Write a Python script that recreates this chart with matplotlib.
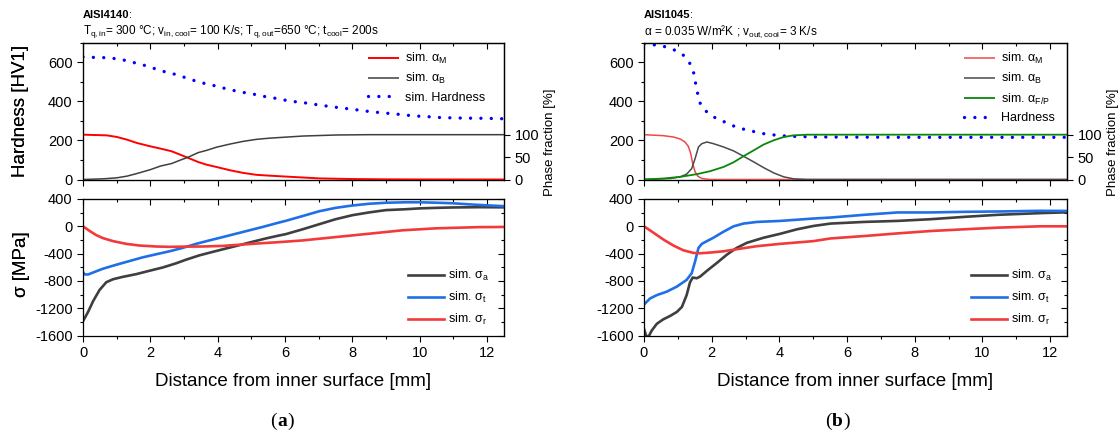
import matplotlib
matplotlib.use("Agg")
import matplotlib.pyplot as plt
from matplotlib.ticker import MultipleLocator, NullFormatter

plt.rcParams['font.family'] = ['Liberation Sans', 'DejaVu Sans']
plt.rcParams['mathtext.fontset'] = 'custom'
plt.rcParams['mathtext.rm'] = 'Liberation Sans'
plt.rcParams['mathtext.it'] = 'Liberation Sans:italic'
plt.rcParams['mathtext.bf'] = 'Liberation Sans:bold'
plt.rcParams['axes.unicode_minus'] = False

# ---------------- data: panel (a) AISI4140 ----------------
a_hard_x = [0.0, 0.34, 0.64, 0.96, 1.26, 1.57, 1.86, 2.16, 2.46, 2.75, 3.05, 3.35, 3.65, 3.94, 4.24,
            4.55, 4.85, 5.16, 5.47, 5.79, 6.09, 6.4, 6.71, 7.01, 7.33, 7.63, 7.94, 8.24, 8.55, 8.86,
            9.17, 9.48, 9.79, 10.09, 10.4, 10.7, 11.0, 11.31, 11.62, 12.0, 12.5]
a_hard_y = [628, 625, 624, 619, 610, 596, 583, 566, 550, 538, 521, 504, 490, 479, 465,
            453, 443, 434, 422, 414, 403, 396, 390, 381, 374, 367, 361, 354, 347, 342,
            337, 332, 326, 323, 320, 316, 316, 314, 314, 313, 311]
a_M_x = [0, 0.7, 1.0, 1.3, 1.6, 2.0, 2.3, 2.63, 2.88, 3.13, 3.42, 3.67, 3.96, 4.36, 4.75, 5.15,
         5.55, 6.15, 7.0, 8.0, 9.0, 10.0, 12.5]
a_M_y = [100, 98.5, 95, 89, 81.5, 74, 69, 63, 55.6, 48, 39, 33, 28, 20.7, 14.8, 10.4,
         8.5, 6, 2.5, 1, 0.4, 0.1, 0]
a_B_x = [0, 0.6, 1.0, 1.3, 1.6, 2.0, 2.3, 2.63, 2.88, 3.13, 3.42, 3.67, 3.96, 4.36, 4.75, 5.15,
         5.55, 6.54, 7.53, 8.5, 12.5]
a_B_y = [0, 1.5, 3.7, 7.4, 13.3, 22, 30, 35.6, 43, 50, 60, 65, 72, 79, 85, 89.6,
         92.3, 97, 99.3, 100, 100]
a_sa_x = [0, 0.15, 0.3, 0.49, 0.69, 0.89, 1.18, 1.58, 1.97, 2.37, 2.76, 3.06, 3.46, 3.85, 4.24,
          4.64, 5.03, 5.43, 5.82, 6.02, 6.52, 7.01, 7.5, 8.0, 8.49, 8.99, 9.58, 9.97, 10.47,
          10.96, 11.75, 12.5]
a_sa_y = [-1390, -1255, -1097, -934, -820, -776, -741, -701, -652, -603, -543, -489, -425, -375, -326,
          -277, -227, -178, -135, -115, -44, 30, 104, 163, 203, 237, 250, 262, 270,
          276, 280, 278]
a_st_x = [0, 0.05, 0.15, 0.3, 0.59, 0.99, 1.38, 1.78, 2.17, 2.57, 2.96, 3.36, 3.75, 4.15, 4.54,
          4.94, 5.33, 5.82, 6.02, 6.52, 7.01, 7.5, 8.0, 8.49, 8.99, 9.58, 9.97, 10.47, 10.96,
          11.45, 12.0, 12.5]
a_st_y = [-672, -705, -706, -677, -622, -563, -509, -454, -410, -366, -316, -257, -207, -158, -109,
          -59, -10, 55, 80, 150, 220, 270, 305, 330, 345, 352, 352, 346, 338,
          322, 307, 295]
a_sr_x = [0, 0.2, 0.39, 0.59, 0.89, 1.28, 1.68, 2.17, 2.57, 2.96, 3.55, 4.15, 4.74, 5.33, 5.82,
          6.52, 7.5, 8.49, 9.48, 10.47, 11.75, 12.5]
a_sr_y = [0, -69, -128, -173, -217, -257, -282, -296, -301, -298, -296, -287, -267, -247, -232,
          -207, -158, -109, -59, -30, -12, -10]

# ---------------- data: panel (b) AISI1045 ----------------
b_hard_x = [0, 0.33, 0.62, 0.9, 1.16, 1.37, 1.48, 1.53, 1.59, 1.67, 1.86, 2.13, 2.42, 2.7, 3.0,
            3.31, 3.61, 3.91, 4.22, 4.54, 5.0, 6.0, 8.0, 10.0, 12.5]
b_hard_y = [694, 689, 680, 663, 637, 591, 540, 487, 436, 385, 345, 313, 292, 270, 255,
            243, 232, 227, 222, 220, 218, 217, 216, 216, 216]
b_M_x = [0, 0.57, 0.87, 1.07, 1.21, 1.31, 1.38, 1.44, 1.51, 1.59, 1.71, 1.95, 12.5]
b_M_y = [100, 97.8, 94.8, 90.4, 83.7, 74, 57.8, 35.6, 17, 7.4, 2.2, 0, 0]
b_B_x = [0, 0.77, 1.07, 1.26, 1.41, 1.51, 1.61, 1.71, 1.86, 2.05, 2.35, 2.65, 2.94, 3.24, 3.53,
         3.83, 4.13, 4.42, 4.82, 12.5]
b_B_y = [0, 2.2, 5.9, 11.9, 24.4, 46.7, 72.6, 80, 83.7, 80, 72.6, 63.7, 51.9, 39.3, 26.7,
         14.8, 5.9, 1.5, 0, 0]
b_FP_x = [0, 0.57, 1.07, 1.56, 1.95, 2.35, 2.65, 2.94, 3.24, 3.53, 3.83, 4.13, 4.42, 4.82, 12.5]
b_FP_y = [0, 2.2, 5.9, 11.9, 18.5, 28, 38.5, 51.9, 65, 77.8, 87.4, 94.8, 98.5, 100, 100]
b_sa_x = [0, 0.06, 0.13, 0.23, 0.38, 0.57, 0.77, 0.97, 1.12, 1.26, 1.36, 1.44, 1.56, 1.66, 1.86,
          2.15, 2.45, 2.74, 3.04, 3.53, 4.03, 4.52, 5.01, 5.51, 6.5, 7.49, 8.47, 9.46, 10.44,
          11.72, 12.5]
b_sa_y = [-1500, -1600, -1620, -1526, -1428, -1363, -1314, -1255, -1181, -1008, -820, -751, -761,
          -736, -652, -538, -415, -316, -242, -168, -109, -44, 5, 40, 64, 79, 104, 138, 168,
          193, 205]
b_st_x = [0, 0.18, 0.38, 0.67, 0.97, 1.26, 1.41, 1.51, 1.61, 1.71, 1.86, 2.05, 2.35, 2.65, 2.94,
          3.34, 4.03, 5.01, 5.51, 6.5, 7.49, 8.47, 9.46, 10.44, 11.72, 12.5]
b_st_y = [-1146, -1057, -1008, -958, -884, -785, -687, -514, -316, -257, -217, -168, -79, 0, 40,
          64, 79, 114, 128, 168, 203, 203, 212, 217, 227, 225]
b_sr_x = [0, 0.28, 0.57, 0.87, 1.16, 1.46, 1.66, 1.95, 2.35, 2.74, 3.34, 4.03, 5.01, 5.51, 6.5,
          7.49, 8.47, 9.46, 10.44, 11.72, 12.5]
b_sr_y = [0, -94, -193, -282, -351, -390, -395, -385, -366, -336, -291, -257, -217, -178, -143,
          -104, -69, -44, -20, 0, 0]

W, H = 1119, 433
fig = plt.figure(figsize=(W / 100, H / 100), dpi=100)
renderer = fig.canvas.get_renderer()


def fx(px):
    return px / W


def fy(py):
    return 1 - py / H


TICK_FS = 10.5
BLUE_D = '#0000ff'
GRAY = '#3f3f3f'
S_GRAY = '#3f3f3f'
S_BLUE = '#1f70e6'
S_RED = '#f23a3a'


def ticks_common(ax):
    ax.tick_params(which='major', length=4, width=0.8)
    ax.tick_params(which='minor', length=2.5, width=0.8)


def style_axis(ax, xlabels=True):
    ax.set_xlim(0, 12.5)
    ax.xaxis.set_major_locator(MultipleLocator(2))
    ax.xaxis.set_minor_locator(MultipleLocator(1))
    ax.tick_params(axis='both', which='both', direction='out', labelsize=TICK_FS,
                   top=False, right=False)
    ticks_common(ax)
    if not xlabels:
        ax.xaxis.set_major_formatter(NullFormatter())
    sec = ax.secondary_xaxis('top')
    sec.xaxis.set_major_locator(MultipleLocator(2))
    sec.xaxis.set_minor_locator(MultipleLocator(1))
    sec.tick_params(axis='x', which='both', direction='in', labeltop=False)
    ticks_common(sec)
    for s in ax.spines.values():
        s.set_linewidth(0.9)
    return sec


def text_width(t):
    bb = t.get_window_extent(renderer=renderer)
    return bb.width


def make_panel(x0, x1, hard, phases, stresses, hard_label, title, subtitle, letter, letter_x,
               leg_x):
    left = fx(x0)
    width = fx(x1 - x0)
    ax_t = fig.add_axes([left, fy(179.5), width, (179.5 - 42.8) / H])
    ax_b = fig.add_axes([left, fy(335.5), width, (335.5 - 199.0) / H])

    # ----- top: hardness + phases -----
    style_axis(ax_t, xlabels=False)
    ax_t.set_ylim(0, 700)
    ax_t.yaxis.set_major_locator(MultipleLocator(200))
    ax_t.yaxis.set_minor_locator(MultipleLocator(100))
    ax2 = ax_t.twinx()
    ax2.set_ylim(0, 305)
    ax2.set_yticks([0, 50, 100])
    ax2.tick_params(axis='y', direction='out', labelsize=TICK_FS, length=4, width=0.8)
    ax2.spines['right'].set_linewidth(0.9)

    handles = []
    for (xs, ys, c, lw, lab) in phases:
        h, = ax2.plot(xs, ys, color=c, lw=lw, label=lab, solid_capstyle='butt')
        handles.append(h)
    hx, hy = hard
    hh, = ax_t.plot(hx, hy, color=BLUE_D, lw=2.4, linestyle=(0, (0.01, 3.1)),
                    dash_capstyle='round', label=hard_label)
    handles.append(hh)
    ax2.legend(handles=handles, loc='upper right', bbox_to_anchor=(leg_x, 1.0), frameon=False,
               fontsize=9, handlelength=2.5, labelspacing=0.42, handletextpad=0.45,
               borderaxespad=0.25)

    # ----- bottom: stresses -----
    style_axis(ax_b, xlabels=True)
    ax_b.set_ylim(-1600, 400)
    ax_b.yaxis.set_major_locator(MultipleLocator(400))
    ax_b.yaxis.set_minor_locator(MultipleLocator(200))
    secy = ax_b.secondary_yaxis('right')
    secy.yaxis.set_major_locator(MultipleLocator(400))
    secy.yaxis.set_minor_locator(MultipleLocator(200))
    secy.tick_params(axis='y', which='both', direction='in', labelright=False)
    ticks_common(secy)
    sh = []
    for (xs, ys, c, lab) in stresses:
        h, = ax_b.plot(xs, ys, color=c, lw=1.9, label=lab)
        sh.append(h)
    ax_b.legend(handles=sh, loc='lower right', bbox_to_anchor=(0.985, 0.0), frameon=False,
                fontsize=9, handlelength=2.9, labelspacing=0.55, handletextpad=0.35,
                borderaxespad=0.25)

    # labels
    fig.text(fx(21), fy(111), 'Hardness [HV1]', rotation=90, ha='center', va='center', fontsize=13.5)
    fig.text(fx(21), fy(264), 'σ [MPa]', rotation=90, ha='center', va='center', fontsize=13.5)
    fig.text(fx(x1 + 46), fy(142), 'Phase fraction [%]', rotation=90, ha='center', va='center',
             fontsize=9.5)
    fig.text(fx((x0 + x1) / 2), fy(382), 'Distance from inner surface [mm]', ha='center',
             va='center', fontsize=13.5)
    t = fig.text(fx(x0), fy(15), title, ha='left', va='center', fontsize=8, fontweight='bold')
    fig.text(fx(x0 + text_width(t) - 0.5), fy(15), ':', ha='left', va='center', fontsize=8)
    fig.text(fx(x0), fy(32), subtitle, ha='left', va='center', fontsize=8.5)

    # panel letter: "(" + bold letter + ")" in serif
    tl = fig.text(fx(letter_x), fy(421), letter, ha='center', va='center', fontsize=14,
                  family='Liberation Serif', fontweight='bold')
    lw_ = text_width(tl)
    fig.text(fx(letter_x - lw_ / 2 - 0.5), fy(421), '(', ha='right', va='center', fontsize=14,
             family='Liberation Serif')
    fig.text(fx(letter_x + lw_ / 2 + 0.5), fy(421), ')', ha='left', va='center', fontsize=14,
             family='Liberation Serif')
    return ax_t, ax_b


# panel (a)
make_panel(
    83, 504,
    (a_hard_x, a_hard_y),
    [(a_M_x, a_M_y, '#ff0000', 1.4, 'sim. α$_\\mathrm{M}$'),
     (a_B_x, a_B_y, GRAY, 1.1, 'sim. α$_\\mathrm{B}$')],
    [(a_sa_x, a_sa_y, S_GRAY, 'sim. σ$_\\mathrm{a}$'),
     (a_st_x, a_st_y, S_BLUE, 'sim. σ$_\\mathrm{t}$'),
     (a_sr_x, a_sr_y, S_RED, 'sim. σ$_\\mathrm{r}$')],
    'sim. Hardness',
    'AISI4140',
    'T$_\\mathrm{q,in}$= 300 °C; v$_\\mathrm{in,cool}$= 100 K/s; T$_\\mathrm{q,out}$=650 °C; t$_\\mathrm{cool}$= 200s',
    'a', 282, 0.975)

# panel (b)
make_panel(
    644, 1067,
    (b_hard_x, b_hard_y),
    [(b_M_x, b_M_y, '#f04848', 1.1, 'sim. α$_\\mathrm{M}$'),
     (b_B_x, b_B_y, '#4a4a4a', 1.1, 'sim. α$_\\mathrm{B}$'),
     (b_FP_x, b_FP_y, '#0a870a', 1.3, 'sim. α$_\\mathrm{F/P}$')],
    [(b_sa_x, b_sa_y, S_GRAY, 'sim. σ$_\\mathrm{a}$'),
     (b_st_x, b_st_y, S_BLUE, 'sim. σ$_\\mathrm{t}$'),
     (b_sr_x, b_sr_y, S_RED, 'sim. σ$_\\mathrm{r}$')],
    'Hardness',
    'AISI1045',
    'α = 0.035 W/m²K ; v$_\\mathrm{out,cool}$= 3 K/s',
    'b', 837, 0.99)

fig.savefig('out.png', dpi=100)
